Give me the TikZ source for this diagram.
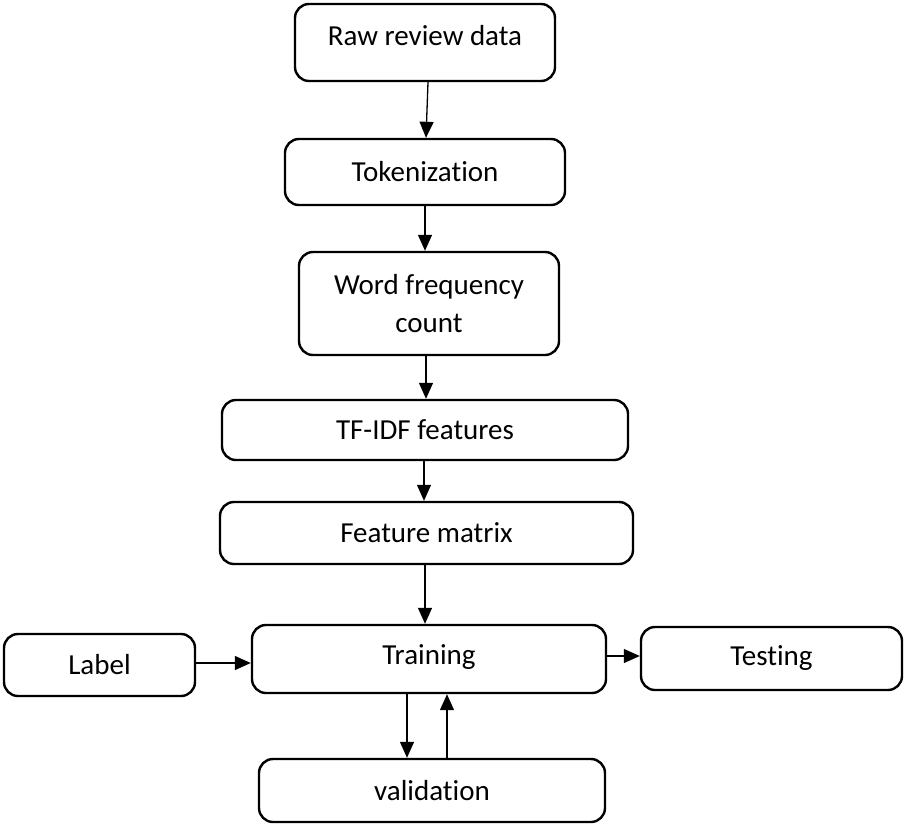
\documentclass[tikz,border=0pt]{standalone}
\usepackage{fontspec}
\setmainfont[Ligatures={NoCommon,NoRare,NoContextual}]{Carlito}
\usetikzlibrary{arrows.meta}
\newcommand{\liftup}[2]{\raisebox{#1}[\height][\depth]{#2}}
\newcommand{\nolig}{\kern0pt{}}
\begin{document}
\begin{tikzpicture}[x=1pt,y=-1pt,
  box/.style={draw,line width=2.4pt,rounded corners=14pt,inner sep=0pt,
    font=\fontsize{29}{38}\selectfont,align=center},
  arr/.style={line width=1.3pt,-{Triangle[length=16pt,width=14pt]}}]
\useasboundingbox (0,0) rectangle (905,825);
\node[box,minimum width=260pt,minimum height=77pt] (raw) at (425,42.5) {\liftup{7pt}{Raw review data}};
\node[box,minimum width=280pt,minimum height=66pt] (tok) at (425,172) {Tokenizat\nolig ion};
\node[box,minimum width=260pt,minimum height=103pt] (word) at (429,303.5) {Word frequency\\count};
\node[box,minimum width=406pt,minimum height=60pt] (tfidf) at (425,430) {TF-IDF features};
\node[box,minimum width=413pt,minimum height=62pt] (fm) at (426.5,533) {Feature matrix};
\node[box,minimum width=354pt,minimum height=68pt] (train) at (429,659) {\liftup{2pt}{Training}};
\node[box,minimum width=191pt,minimum height=62pt] (label) at (99.5,665) {Label};
\node[box,minimum width=261pt,minimum height=63pt] (test) at (771.5,658.5) {Testing};
\node[box,minimum width=346pt,minimum height=63pt] (valid) at (432,790.5) {validat\nolig ion};
\draw[arr] ([xshift=3pt]raw.south) -- ([xshift=1pt]tok.north);
\draw[arr] (tok.south) -- ([xshift=-4pt]word.north);
\draw[arr] ([xshift=-3pt]word.south) -- ([xshift=1pt]tfidf.north);
\draw[arr] ([xshift=-1pt]tfidf.south) -- ([xshift=-2.5pt]fm.north);
\draw[arr] ([xshift=-1.5pt]fm.south) -- ([xshift=-4pt]train.north);
\draw[arr] ([yshift=2pt]label.east) -- ([yshift=-4pt]train.west);
\draw[arr] ([yshift=3pt]train.east) -- ([yshift=2.5pt]test.west);
\draw[arr] ([xshift=-22pt]train.south) -- ([xshift=-25pt]valid.north);
\draw[arr] ([xshift=15pt]valid.north) -- ([xshift=18pt]train.south);
\end{tikzpicture}
\end{document}
